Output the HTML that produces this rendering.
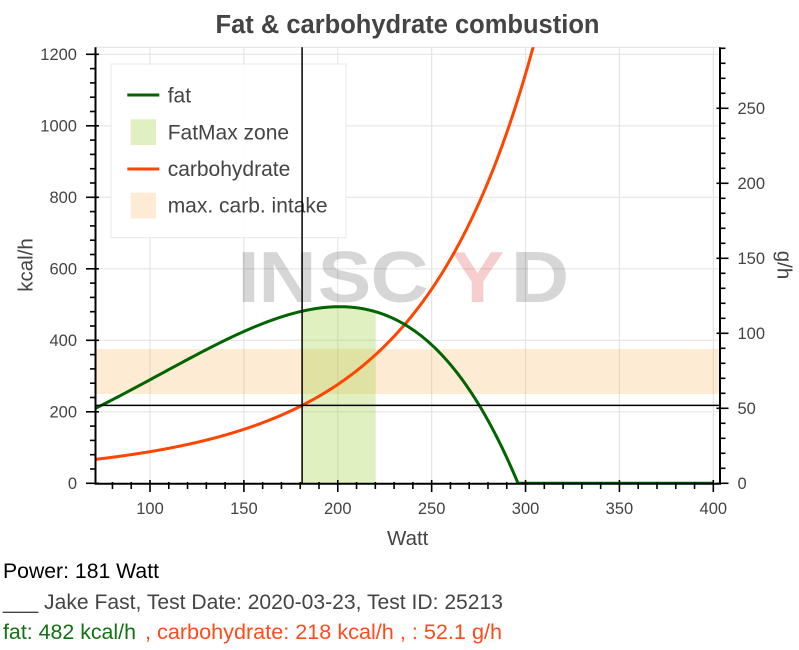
<!DOCTYPE html>
<html>
<head>
<meta charset="utf-8">
<style>
  html,body{margin:0;padding:0;background:#fff;}
  body{width:799px;height:650px;overflow:hidden;}
  svg{display:block;font-family:"Liberation Sans","DejaVu Sans",sans-serif;}
</style>
</head>
<body>
<svg id="chart" width="799" height="650" viewBox="0 0 799 650" xmlns="http://www.w3.org/2000/svg">
  <defs>
    <clipPath id="frame"><rect x="95.5" y="47.3" width="624.5" height="436.5"/></clipPath>
  </defs>

  <!-- title -->
  <text x="407.5" y="33" text-anchor="middle" font-size="25.5" font-weight="bold" fill="#444">Fat &amp; carbohydrate combustion</text>

  <!-- frame outline top -->
  <line x1="95.5" y1="47.3" x2="720" y2="47.3" stroke="#e5e5e5" stroke-width="1.2"/>

  <!-- gridlines -->
  <g id="grid" stroke="#e5e5e5" stroke-width="1.2"></g>

  <g clip-path="url(#frame)">
    <rect id="band" x="95.5" y="349" width="624.5" height="45" fill="rgba(245,155,35,0.2)"/>
    <path id="zone" fill="rgba(154,205,50,0.3)" d=""/>
    <path id="carb" fill="none" stroke="#ff4500" stroke-width="3" d=""/>
    <path id="fat" fill="none" stroke="#006400" stroke-width="3" d=""/>
    <g font-size="72" font-weight="bold" text-anchor="middle">
      <g transform="translate(248.5,302) scale(1.12,1)"><text x="0" y="0" fill="rgba(0,0,0,0.16)">I</text></g>
      <g transform="translate(287.5,302) scale(1.12,1)"><text x="0" y="0" fill="rgba(0,0,0,0.16)">N</text></g>
      <g transform="translate(344.5,302) scale(1.12,1)"><text x="0" y="0" fill="rgba(0,0,0,0.16)">S</text></g>
      <g transform="translate(399.5,302) scale(1.12,1)"><text x="0" y="0" fill="rgba(0,0,0,0.16)">C</text></g>
      <g transform="translate(477.5,302) scale(1.12,1)"><text x="0" y="0" fill="rgba(220,30,30,0.22)">Y</text></g>
      <g transform="translate(540,302) scale(1.12,1)"><text x="0" y="0" fill="rgba(0,0,0,0.16)">D</text></g>
    </g>
  </g>

  <!-- legend -->
  <rect x="111" y="64" width="235" height="173.7" fill="rgba(255,255,255,0.96)" stroke="#e8e8e8" stroke-width="1"/>
  <line x1="127.3" y1="95" x2="159.3" y2="95" stroke="#006400" stroke-width="3"/>
  <text x="167.7" y="102.3" font-size="21" fill="#444">fat</text>
  <rect x="130.7" y="119.3" width="25.3" height="25.7" fill="rgba(154,205,50,0.3)"/>
  <text x="167.7" y="139.3" font-size="21" fill="#444">FatMax zone</text>
  <line x1="127.3" y1="169" x2="159.3" y2="169" stroke="#ff4500" stroke-width="3"/>
  <text x="167.7" y="176" font-size="21" fill="#444">carbohydrate</text>
  <rect x="130.7" y="192.7" width="25.3" height="25.7" fill="rgba(245,155,35,0.2)"/>
  <text x="167.7" y="212.7" font-size="21" fill="#444">max. carb. intake</text>

  <!-- spans -->
  <line x1="302.1" y1="47.3" x2="302.1" y2="483.3" stroke="#000" stroke-width="1.5"/>
  <line x1="95.5" y1="405.4" x2="720" y2="405.4" stroke="#000" stroke-width="1.5"/>

  <!-- axes -->
  <g id="axes" stroke="#000"></g>
  <g id="labels" font-size="16.5" fill="#444"></g>

  <!-- axis titles -->
  <text x="0" y="0" transform="translate(32.5,265) rotate(-90)" text-anchor="middle" font-size="20.5" fill="#444">kcal/h</text>
  <text x="407.7" y="545" text-anchor="middle" font-size="20.5" fill="#444">Watt</text>
  <text x="0" y="0" transform="translate(777.5,265) rotate(90)" text-anchor="middle" font-size="20.5" fill="#444">g/h</text>

  <!-- info text -->
  <text x="3" y="578" font-size="21" fill="#000" textLength="156" lengthAdjust="spacingAndGlyphs">Power: 181 Watt</text>
  <text x="3" y="609" font-size="21" fill="#444" textLength="500" lengthAdjust="spacingAndGlyphs">___ Jake Fast, Test Date: 2020-03-23, Test ID: 25213</text>
  <text x="3" y="639" font-size="21" fill="#137013" textLength="133" lengthAdjust="spacingAndGlyphs">fat: 482 kcal/h</text>
  <text x="145" y="639" font-size="21" fill="#ff4a1c" textLength="357" lengthAdjust="spacingAndGlyphs">, carbohydrate: 218 kcal/h , : 52.1 g/h</text>
</svg>
<script>
(function(){
  var NS="http://www.w3.org/2000/svg";
  function X(w){return 150+(w-100)*1.8777;}
  function Y(k){return 483.3-k*0.3575;}
  function G(g){return 483.3-g*1.5;}
  function fat(w){ if(w>=296) return 0; return 494*((296-w)/95)*Math.pow((w+143)/344,3.62); }
  function carb(w){ return Math.exp(3.625+0.007168*w+1.4086e-5*w*w); }
  function el(tag,attrs,parent,txt){var e=document.createElementNS(NS,tag);for(var k in attrs)e.setAttribute(k,attrs[k]);if(txt!==undefined)e.textContent=txt;parent.appendChild(e);return e;}
  var d="",w;
  for(w=71;w<=400.001;w+=0.5){d+=(w===71?"M":"L")+X(w).toFixed(2)+","+Y(fat(w)).toFixed(2)+" ";}
  document.getElementById("fat").setAttribute("d",d);
  d="";
  for(w=71;w<=312;w+=0.5){d+=(w===71?"M":"L")+X(w).toFixed(2)+","+Y(carb(w)).toFixed(2)+" ";}
  document.getElementById("carb").setAttribute("d",d);
  d="M"+X(181).toFixed(2)+","+Y(0)+" ";
  for(w=181;w<=220.2;w+=0.4){d+="L"+X(w).toFixed(2)+","+Y(fat(w)).toFixed(2)+" ";}
  d+="L"+X(220.2).toFixed(2)+","+Y(fat(220.2)).toFixed(2)+" L"+X(220.2).toFixed(2)+","+Y(0)+" Z";
  document.getElementById("zone").setAttribute("d",d);
  var grid=document.getElementById("grid");
  for(w=100;w<=400;w+=50){el("line",{x1:X(w),y1:47.3,x2:X(w),y2:483.3},grid);}
  for(var k=200;k<=1200;k+=200){el("line",{x1:95.5,y1:Y(k),x2:720,y2:Y(k)},grid);}
  var ax=document.getElementById("axes"), lb=document.getElementById("labels");
  el("line",{x1:95.5,y1:47.3,x2:95.5,y2:484.3,"stroke-width":2},ax);
  el("line",{x1:94.5,y1:483.8,x2:721,y2:483.8,"stroke-width":2},ax);
  el("line",{x1:720,y1:47.3,x2:720,y2:484.3,"stroke-width":2},ax);
  for(k=0;k<=1219;k+=40){
    var y=Y(k);
    if(k%200===0){el("line",{x1:86,y1:y,x2:99,y2:y,"stroke-width":1.6},ax);
      el("text",{x:77,y:(y+5.9).toFixed(2),"text-anchor":"end"},lb,String(k));}
    else el("line",{x1:90,y1:y,x2:96.5,y2:y,"stroke-width":1.6},ax);
  }
  for(w=80;w<=400;w+=10){
    var x=X(w);
    if(w%50===0){el("line",{x1:x,y1:480,x2:x,y2:492,"stroke-width":1.6},ax);
      el("text",{x:x.toFixed(2),y:514.2,"text-anchor":"middle"},lb,String(w));}
    else el("line",{x1:x,y1:482,x2:x,y2:489,"stroke-width":1.6},ax);
  }
  for(var g=0;g<=290;g+=10){
    var yy=G(g);
    if(g%50===0){el("line",{x1:716.5,y1:yy,x2:728.5,y2:yy,"stroke-width":1.6},ax);
      el("text",{x:737.5,y:(yy+5.9).toFixed(2),"text-anchor":"start"},lb,String(g));}
    else el("line",{x1:719,y1:yy,x2:725.5,y2:yy,"stroke-width":1.6},ax);
  }
})();
</script>
</body>
</html>
